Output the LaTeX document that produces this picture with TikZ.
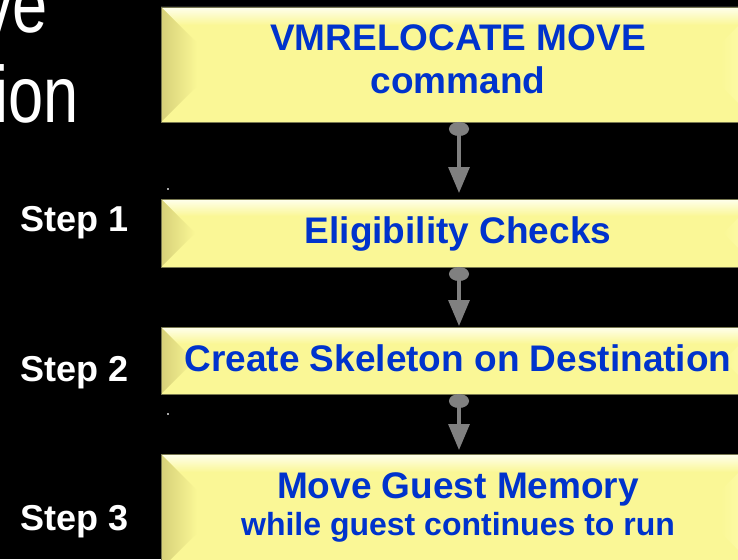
\documentclass[tikz,border=0pt]{standalone}
\usepackage{fontspec}
\setmainfont{Liberation Sans}
\usetikzlibrary{arrows.meta,calc}
\definecolor{basey}{RGB}{250,247,150}
\definecolor{leftc}{RGB}{214,208,120}
\definecolor{topc}{RGB}{255,255,238}
\definecolor{rightc}{RGB}{255,253,178}
\definecolor{edgec}{RGB}{120,120,80}
\definecolor{txtblue}{RGB}{0,51,204}
\definecolor{connc}{RGB}{128,128,128}
\newcommand{\bevelbox}[4]{% name, left x, top y, height
  \node[boxnode, minimum height=#4pt, anchor=north west] (#1) at (#2,#3) {};
  \pgfmathsetmacro\bd{min(36,#4/2)}
  \fill[basey] (#1.north west) rectangle (#1.south east);
  \shade[top color=topc, bottom color=basey, middle color=basey]
    (#1.north west) -- (#1.north east) -- ++(-\bd,\bd) -- ($(#1.north west)+(\bd,\bd)$) -- cycle;
  \shade[left color=basey, right color=rightc]
    (#1.north east) -- ++(-\bd,\bd) -- ($(#1.south east)+(-\bd,-\bd)$) -- (#1.south east) -- cycle;
  \shade[left color=leftc, right color=basey]
    (#1.north west) -- ++(\bd,\bd) -- ($(#1.south west)+(\bd,-\bd)$) -- (#1.south west) -- cycle;
  \draw[edgec, line width=0.9pt] (#1.north west) rectangle (#1.south east);
}
\begin{document}
\begin{tikzpicture}[x=1pt,y=-1pt,
  boxnode/.style={rectangle, inner sep=0pt, outer sep=0pt, minimum width=596pt},
  boxtext/.style={text=txtblue, inner sep=0pt, anchor=base, font=\fontsize{37}{44}\selectfont\bfseries},
  smalltext/.style={text=txtblue, inner sep=0pt, anchor=base, font=\fontsize{32}{38}\selectfont\bfseries},
  steplabel/.style={text=white, inner sep=0pt, anchor=base west, font=\fontsize{36}{43}\selectfont\bfseries},
  bigtext/.style={text=white, inner sep=0pt, anchor=base east, xscale=0.79, font=\fontsize{80}{90}\selectfont},
  conn/.style={draw=connc, line width=3.3pt, {Ellipse[length=14pt,width=20pt]}-{Triangle[length=26pt,width=21pt]}}
]
\fill[black] (0,0) rectangle (738,559);
\useasboundingbox (0,0) rectangle (738,559);

\node[bigtext] (ve) at (48,32.5) {ve};
\node[bigtext] (ion) at (79.3,122) {ion};

\bevelbox{b1}{161}{7}{115}
\bevelbox{b2}{161}{199}{68}
\bevelbox{b3}{161}{327}{67}
\bevelbox{b4}{161}{454}{115}

\node[boxtext] (t1a) at (458,51) {VMRELOCATE MOVE};
\node[boxtext] (t1b) at (458,94) {command};
\node[boxtext] (t2) at (458,243) {Eligibility Checks};
\node[boxtext] (t3) at (458,371) {Create Skeleton on Destination};
\node[boxtext] (t4a) at (458,498) {Move Guest Memory};
\node[smalltext] (t4b) at (458,535) {while guest continues to run};

\node[steplabel] (s1) at (20.5,231) {Step 1};
\node[steplabel] (s2) at (20.5,381) {Step 2};
\node[steplabel] (s3) at (20.5,530) {Step 3};

\draw[conn, shorten >=6pt] (b1.south) -- (b2.north);
\draw[conn, shorten >=1pt] (b2.south) -- (b3.north);
\draw[conn, shorten >=4pt] (b3.south) -- (b4.north);

\fill[gray!70] (167,188.3) rectangle (168.5,189.8);
\fill[gray!70] (167,413.3) rectangle (168.5,414.8);
\end{tikzpicture}
\end{document}
